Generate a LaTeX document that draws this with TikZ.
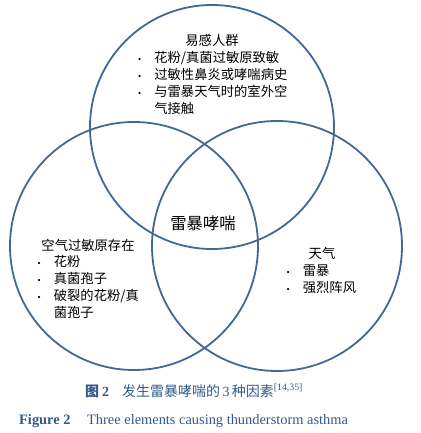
\documentclass[tikz,border=0pt]{standalone}
\usepackage{fontspec}
\setmainfont{Liberation Serif}
\newfontfamily\cjk{Noto Sans CJK SC}
\newfontfamily\bulfont{Liberation Serif}
\usetikzlibrary{positioning}
\definecolor{vennblue}{RGB}{66,104,150}
\definecolor{capblue}{RGB}{52,88,140}
\newcommand\vbul{{\bulfont\fontsize{9}{9}\selectfont\textbullet}}

\begin{document}
\begin{tikzpicture}[
  x=1pt, y=-1pt,
  every node/.style={font=\cjk\fontsize{13.3}{17}\selectfont, inner sep=0pt},
  ring/.style={draw=vennblue, line width=1.8pt},
  heading/.style={anchor=center},
  itemlist/.style={anchor=north west, align=left},
  caption/.style={text=capblue}
]
\useasboundingbox (0,0) rectangle (420,433);

% the three sets
\draw[ring] (212,127) circle[radius=122];
\draw[ring] (134,246) circle[radius=124];
\draw[ring] (277,246) circle[radius=125];

% susceptible people
\node[heading] (toptitle) at (212,40) {易感人群};
\node[itemlist] (toplist) at (138,50) {\begin{tabular}{@{}l@{\hspace{13pt}}l@{}}
\vbul & 花粉/真菌过敏原致敏\\
\vbul & 过敏性鼻炎或哮喘病史\\
\vbul & 与雷暴天气时的室外空\\
      & 气接触
\end{tabular}};

% airborne allergens
\node[heading] (lefttitle) at (88,245) {空气过敏原存在};
\node[itemlist] (leftlist) at (37.5,254) {\begin{tabular}{@{}l@{\hspace{13pt}}l@{}}
\vbul & 花粉\\
\vbul & 真菌孢子\\
\vbul & 破裂的花粉/真\\
      & 菌孢子
\end{tabular}};

% weather
\node[heading] (righttitle) at (322,253) {天气};
\node[itemlist] (rightlist) at (286.5,263) {\begin{tabular}{@{}l@{\hspace{13pt}}l@{}}
\vbul & 雷暴\\
\vbul & 强烈阵风
\end{tabular}};

% intersection
\node[font=\cjk\fontsize{16.3}{18}\selectfont] (core) at (203,223) {雷暴哮喘};

% captions
\node[caption, font=\rmfamily\fontsize{14}{16}\selectfont, anchor=base west] (capcn) at (85,396)
  {{\cjk\bfseries 图}\hspace{3pt}\textbf{2}\hspace{13pt}{\cjk 发生雷暴哮喘的}\,3\,{\cjk 种因素}\textsuperscript{[14,35]}};
\node[caption, font=\rmfamily\fontsize{14.4}{16}\selectfont, anchor=base west] (capen) at (19,424)
  {\makebox[68pt][l]{\textbf{Figure 2}}Three elements causing thunderstorm asthma};
\end{tikzpicture}
\end{document}
